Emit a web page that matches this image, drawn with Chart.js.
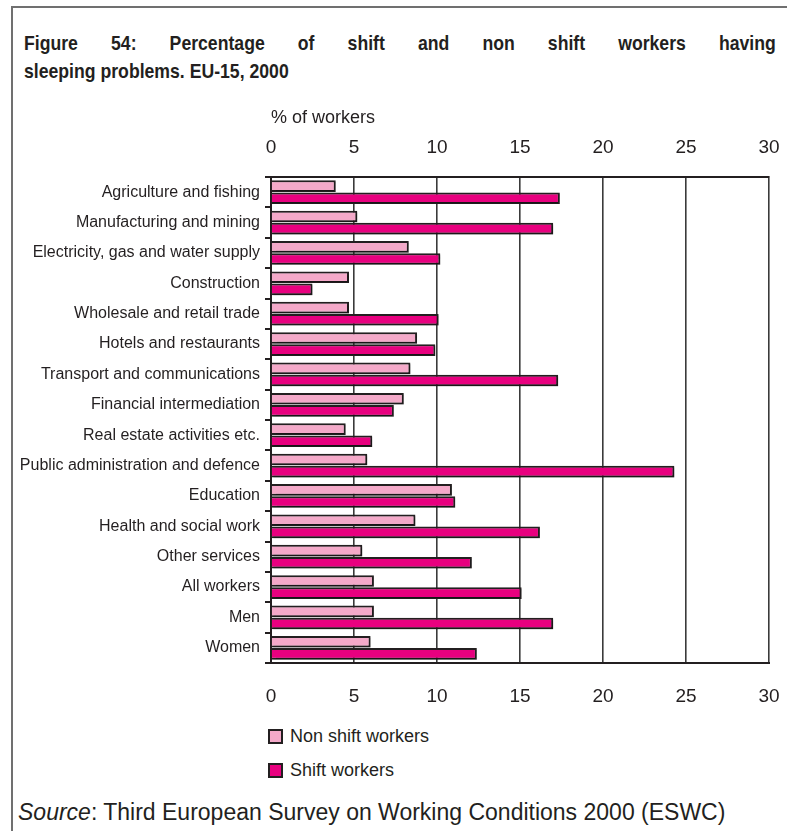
<!DOCTYPE html>
<html lang="en">
  <head>
    <meta charset="UTF-8" />
    <title>Figure 54</title>
    <script src="https://cdn.jsdelivr.net/npm/chart.js"></script>
    <style>
      body {
        margin: 0;
        width: 787px;
        height: 831px;
        overflow: hidden;
        position: relative;
        background: #fff;
        color: #231f20;
        font-family: "Liberation Sans", Arial, sans-serif;
      }
      .frame {
        position: absolute;
        left: 11px;
        top: 6px;
        right: -10px;
        bottom: -10px;
        border-left: 2px solid #707070;
        border-top: 2px solid #707070;
      }
      .title {
        position: absolute;
        left: 24px;
        top: 29px;
        width: 895px;
        transform: scaleX(0.84);
        transform-origin: 0 0;
        font-weight: bold;
        font-size: 21px;
        line-height: 28px;
      }
      .title .l1 {
        text-align: justify;
        text-align-last: justify;
      }
      #wrap {
        position: absolute;
        left: 0;
        top: 90px;
        width: 787px;
        height: 620px;
      }
      #legend {
        position: absolute;
        left: 268px;
        top: 727px;
      }
      .item {
        display: flex;
        align-items: center;
        height: 18px;
        margin-bottom: 16px;
        font-size: 18px;
      }
      .box {
        width: 11px;
        height: 11px;
        border: 2px solid #231f20;
        margin-right: 7px;
      }
      .source {
        position: absolute;
        left: 18px;
        top: 799px;
        font-size: 23px;
        white-space: nowrap;
      }
    </style>
  </head>
  <body>
    <div class="frame"></div>
    <div class="title">
      <div class="l1">Figure 54: Percentage of shift and non shift workers having</div>
      <div>sleeping problems. EU-15, 2000</div>
    </div>
    <div id="wrap"><canvas id="chart"></canvas></div>
    <div id="legend"></div>
    <div class="source"><i>Source</i>: Third European Survey on Working Conditions 2000 (ESWC)</div>

    <script>
      const categories = [
        "Agriculture and fishing",
        "Manufacturing and mining",
        "Electricity, gas and water supply",
        "Construction",
        "Wholesale and retail trade",
        "Hotels and restaurants",
        "Transport and communications",
        "Financial intermediation",
        "Real estate activities etc.",
        "Public administration and defence",
        "Education",
        "Health and social work",
        "Other services",
        "All workers",
        "Men",
        "Women",
      ];
      const nonShift = [3.9, 5.2, 8.3, 4.7, 4.7, 8.8, 8.4, 8.0, 4.5, 5.8, 10.9, 8.7, 5.5, 6.2, 6.2, 6.0];
      const shift = [17.4, 17.0, 10.2, 2.5, 10.1, 9.9, 17.3, 7.4, 6.1, 24.3, 11.1, 16.2, 12.1, 15.1, 17.0, 12.4];
      const seriesNames = ["Non shift workers", "Shift workers"];
      const xMin = 0;
      const xMax = 30;
      const xStep = 5;

      const ink = "#231f20";

      // soft drop shadow under the bars, like the printed figure
      const barShadow = {
        id: "barShadow",
        beforeDatasetsDraw(chart) {
          const ctx = chart.ctx;
          ctx.save();
          ctx.shadowColor = "rgba(0,0,0,0.3)";
          ctx.shadowOffsetX = 1.5;
          ctx.shadowOffsetY = 1.5;
          ctx.shadowBlur = 1.5;
        },
        afterDatasetsDraw(chart) {
          chart.ctx.restore();
        },
      };

      const tickFont = { family: "'Liberation Sans', Arial, sans-serif", size: 19 };

      // fixed band heights for the two value axes; the tick padding
      // otherwise pushes the right edge of the plot inwards
      function fitX(h) {
        return (s) => {
          s.height = h;
          s.paddingRight = 18;
          s.paddingLeft = 10;
        };
      }

      const chart = new Chart(document.getElementById("chart"), {
        type: "bar",
        data: {
          labels: categories,
          datasets: [
            {
              label: seriesNames[0],
              data: nonShift,
              backgroundColor: "#f4a9c9",
              borderColor: ink,
              borderWidth: 2,
              xAxisID: "x",
            },
            {
              label: seriesNames[1],
              data: shift,
              backgroundColor: "#e8007f",
              borderColor: ink,
              borderWidth: 2,
              xAxisID: "x",
            },
          ],
        },
        options: {
          indexAxis: "y",
          responsive: true,
          maintainAspectRatio: false,
          animation: false,
          categoryPercentage: 0.8,
          barPercentage: 0.96,
          layout: { padding: 0 },
          plugins: {
            legend: { display: false },
            tooltip: { enabled: false },
          },
          scales: {
            x: {
              position: "top",
              min: xMin,
              max: xMax,
              ticks: { stepSize: xStep, padding: 18, color: ink, font: tickFont },
              grid: { color: "#3a3a3a", lineWidth: 1.6, drawTicks: false },
              border: { display: true, color: ink, width: 2 },
              title: {
                display: true,
                text: "% of workers",
                align: "start",
                color: ink,
                font: { family: "'Liberation Sans', Arial, sans-serif", size: 18 },
                padding: { top: 17, bottom: 0 },
              },
              afterFit: fitX(87),
            },
            x2: {
              position: "bottom",
              display: true,
              min: xMin,
              max: xMax,
              ticks: { stepSize: xStep, padding: 22, color: ink, font: tickFont },
              grid: { display: false, drawTicks: false },
              border: { display: true, color: ink, width: 2 },
              afterFit: fitX(47),
            },
            y: {
              ticks: {
                color: ink,
                padding: 5,
                font: { family: "'Liberation Sans', Arial, sans-serif", size: 16 },
              },
              grid: { drawOnChartArea: false, tickLength: 6, color: ink, lineWidth: 2, offset: true },
              border: { display: true, color: ink, width: 2 },
              afterFit(s) {
                s.width = 271;
              },
            },
          },
        },
        plugins: [barShadow],
      });

      // legend stacked in a column under the plot
      const legend = document.getElementById("legend");
      chart.data.datasets.forEach((ds) => {
        const row = document.createElement("div");
        row.className = "item";
        const box = document.createElement("span");
        box.className = "box";
        box.style.background = ds.backgroundColor;
        row.appendChild(box);
        row.appendChild(document.createTextNode(ds.label));
        legend.appendChild(row);
      });
    </script>
  </body>
</html>
